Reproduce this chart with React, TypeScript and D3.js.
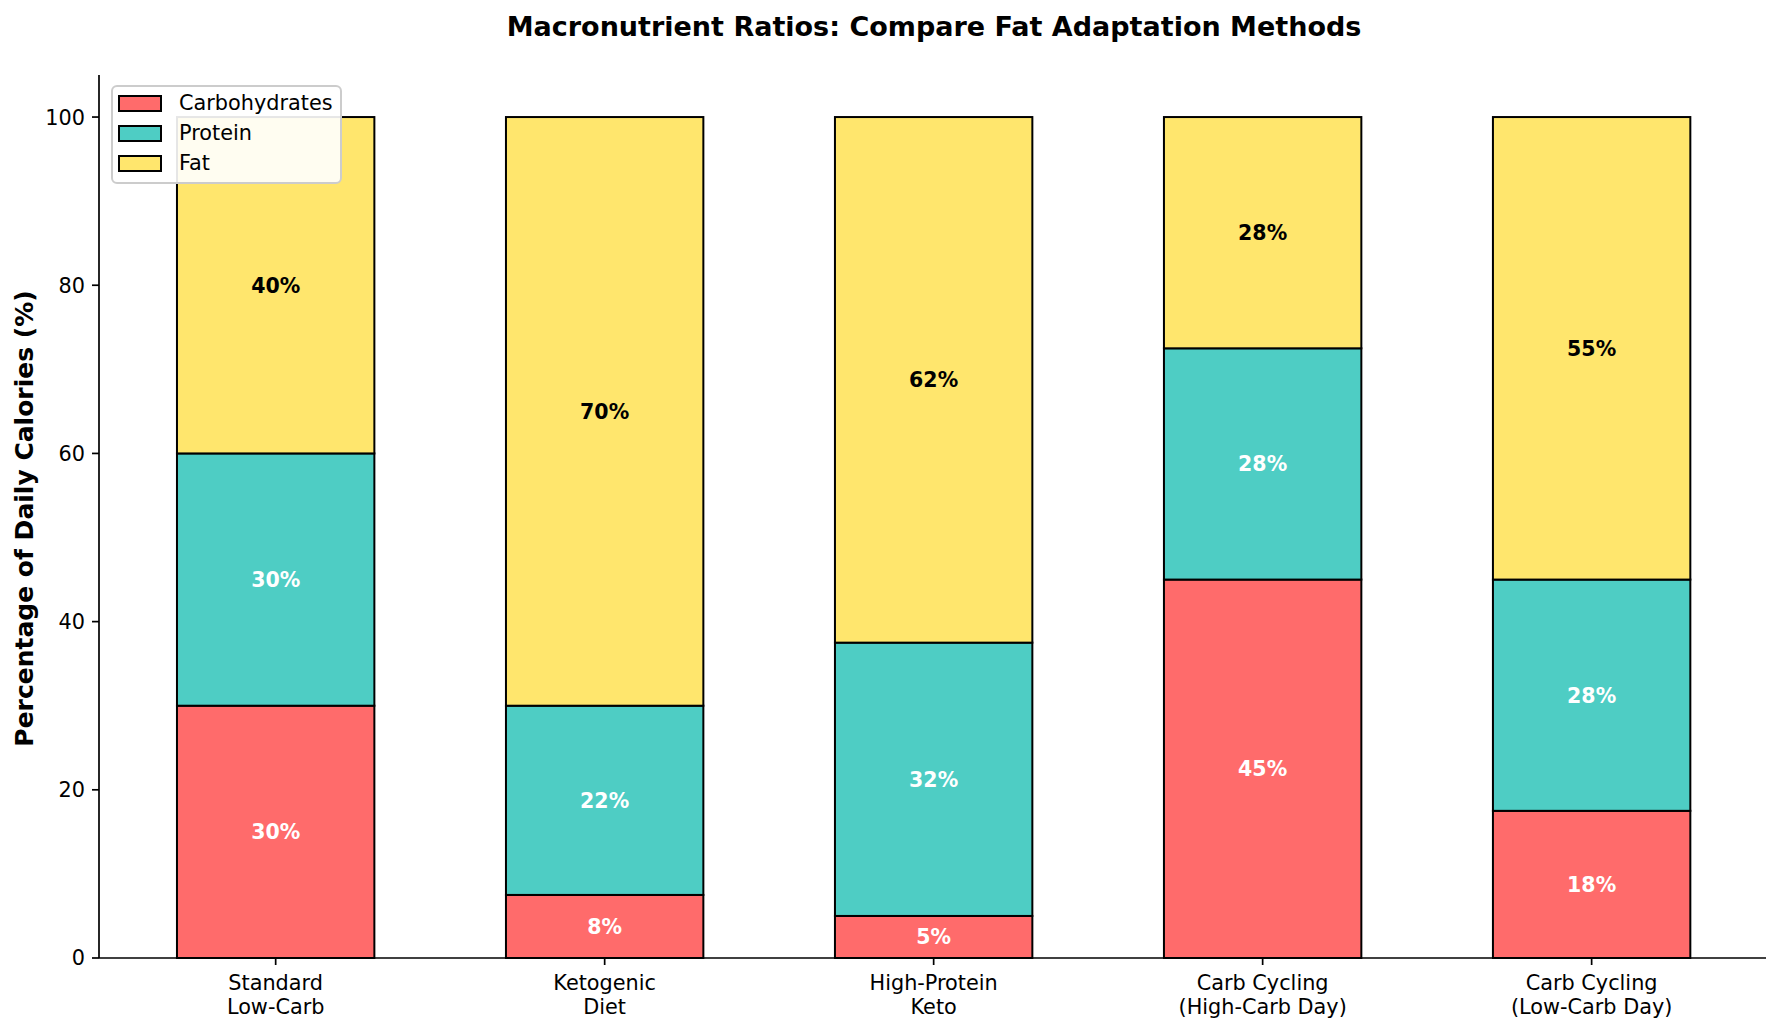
import React from "react";
import * as d3 from "d3";

// categories (two-line tick labels)
const methods = [
  ["Standard", "Low-Carb"],
  ["Ketogenic", "Diet"],
  ["High-Protein", "Keto"],
  ["Carb Cycling", "(High-Carb Day)"],
  ["Carb Cycling", "(Low-Carb Day)"],
];

// percentage of daily calories
const carbs = [30, 7.5, 5, 45, 17.5];
const protein = [30, 22.5, 32.5, 27.5, 27.5];
const fat = [40, 70, 62.5, 27.5, 55];

const seriesNames = ["Carbohydrates", "Protein", "Fat"];
const seriesColors = ["#FF6B6B", "#4ECDC4", "#FFE66D"];
const labelColors = ["white", "white", "black"];
const yTicks = [0, 20, 40, 60, 80, 100];

const W = 1782;
const H = 1031;
const plot = { left: 99, right: 1766, top: 75, bottom: 958 };
const FONT = "'DejaVu Sans', sans-serif";

// python-style round half to even for the labels
const roundHalfEven = (v: number): number => {
  const f = Math.floor(v);
  const diff = v - f;
  if (Math.abs(diff - 0.5) < 1e-9) return f % 2 === 0 ? f : f + 1;
  return Math.round(v);
};

const App: React.FC = () => {
  const x = d3.scaleLinear().domain([-0.537, 4.53]).range([plot.left, plot.right]);
  const y = d3.scaleLinear().domain([0, 105]).range([plot.bottom, plot.top]);
  const barW = x(0.6) - x(0);

  const rows = methods.map((m, i) => ({ key: i, carbs: carbs[i], protein: protein[i], fat: fat[i] }));
  const stack = d3.stack<any>().keys(["carbs", "protein", "fat"])(rows);

  return (
    <svg width={W} height={H} style={{ display: "block", position: "absolute", left: 0, top: 0 }}>
      <rect width={W} height={H} fill="white" />

      <text
        x={934}
        y={36}
        textAnchor="middle"
        fontFamily={FONT}
        fontWeight="bold"
        fontSize={27}
        fill="black"
      >
        Macronutrient Ratios: Compare Fat Adaptation Methods
      </text>

      {/* bars */}
      {stack.map((layer, si) => (
        <g key={si}>
          {layer.map((d, i) => (
            <rect
              key={i}
              x={x(i) - barW / 2}
              y={y(d[1])}
              width={barW}
              height={y(d[0]) - y(d[1])}
              fill={seriesColors[si]}
              stroke="black"
              strokeWidth={2}
            />
          ))}
        </g>
      ))}

      {/* value labels */}
      {stack.map((layer, si) => (
        <g key={"l" + si}>
          {layer.map((d, i) => (
            <text
              key={i}
              x={x(i)}
              y={y((d[0] + d[1]) / 2)}
              dy="0.36em"
              textAnchor="middle"
              fontFamily={FONT}
              fontWeight="bold"
              fontSize={20.5}
              fill={labelColors[si]}
            >
              {roundHalfEven(d[1] - d[0])}%
            </text>
          ))}
        </g>
      ))}

      {/* axes */}
      <line x1={plot.left} x2={plot.left} y1={plot.top} y2={plot.bottom} stroke="black" strokeWidth={1.7} />
      <line x1={plot.left} x2={plot.right} y1={plot.bottom} y2={plot.bottom} stroke="black" strokeWidth={1.7} />

      {yTicks.map((t) => (
        <g key={t}>
          <line x1={plot.left - 7} x2={plot.left} y1={y(t)} y2={y(t)} stroke="black" strokeWidth={1.7} />
          <text
            x={plot.left - 14}
            y={y(t)}
            dy="0.36em"
            textAnchor="end"
            fontFamily={FONT}
            fontSize={20.8}
            fill="black"
          >
            {t}
          </text>
        </g>
      ))}

      {methods.map((m, i) => (
        <g key={i}>
          <line x1={x(i)} x2={x(i)} y1={plot.bottom} y2={plot.bottom + 7} stroke="black" strokeWidth={1.7} />
          {m.map((line, li) => (
            <text
              key={li}
              x={x(i)}
              y={plot.bottom + 32 + li * 24}
              textAnchor="middle"
              fontFamily={FONT}
              fontSize={20.8}
              fill="black"
            >
              {line}
            </text>
          ))}
        </g>
      ))}

      <text
        transform={`translate(33,${(plot.top + plot.bottom) / 2 + 2}) rotate(-90)`}
        textAnchor="middle"
        fontFamily={FONT}
        fontWeight="bold"
        fontSize={25}
        fill="black"
      >
        Percentage of Daily Calories (%)
      </text>

      {/* legend */}
      <g transform="translate(112,86)">
        <rect width={229} height={97} rx={5} fill="white" fillOpacity={0.9} stroke="#cccccc" strokeWidth={2} />
        {seriesNames.map((s, i) => (
          <g key={s} transform={`translate(0,${i * 30})`}>
            <rect x={7} y={10} width={42} height={15} fill={seriesColors[i]} stroke="black" strokeWidth={2} />
            <text x={67} y={17} dy="0.36em" fontFamily={FONT} fontSize={20.8} fill="black">
              {s}
            </text>
          </g>
        ))}
      </g>
    </svg>
  );
};

export default App;
